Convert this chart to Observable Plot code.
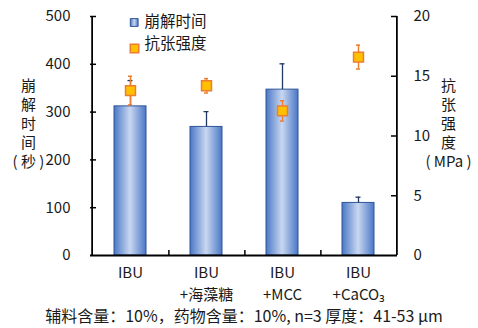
<!DOCTYPE html>
<html>
<head>
<meta charset="utf-8">
<script src="https://cdn.jsdelivr.net/npm/d3@7"></script>
<script src="https://cdn.jsdelivr.net/npm/@observablehq/plot@0.6"></script>
<style>
  body { margin: 0; background: #fff; }
</style>
</head>
<body>
<div id="chart"></div>
<script>
// Formulations and their measured properties (mean and SD, n = 3)
const categories = ["IBU", "IBU+海藻糖", "IBU+MCC", "IBU+CaCO3"];
const labelLine1 = ["IBU", "IBU", "IBU", "IBU"];
const labelLine2 = ["", "+海藻糖", "+MCC", "+CaCO₃"];
const disintegration = [312, 269, 347, 110];      // 崩解时间 (秒)
const disintegrationErr = [54, 32, 54, 12];
const tensile = [13.8, 14.2, 12.1, 16.6];         // 抗张强度 (MPa)
const tensileErr = [1.2, 0.6, 0.85, 1.0];
const leftTicks = [0, 100, 200, 300, 400, 500];
const rightTicks = [0, 5, 10, 15, 20];

// Right axis (0–20 MPa) shares the left axis range (0–500 s)
const k = 500 / 20;

const rows = categories.map((cat, i) => ({
  cat,
  dis: disintegration[i],
  disErr: disintegrationErr[i],
  ts: tensile[i],
  tsErr: tensileErr[i]
}));

const W = 478, H = 328;
const mL = 90, mR = 81, mT = 16, mB = 73;
const fw = W - mL - mR, fh = H - mT - mB;
const step = fw / categories.length;
const font = '"Noto Sans CJK SC", "Noto Sans", sans-serif';
const ink = "#1a1a1a";

const defs = () => {
  const d = d3.create("svg:defs");
  const g = d.append("linearGradient").attr("id", "barGrad")
    .attr("x1", "0").attr("x2", "1").attr("y1", "0").attr("y2", "0");
  g.append("stop").attr("offset", "0%").attr("stop-color", "#4a77c6");
  g.append("stop").attr("offset", "50%").attr("stop-color", "#c9d7f0");
  g.append("stop").attr("offset", "100%").attr("stop-color", "#4a77c6");
  return d.node();
};

const label = { fontSize: 15, fill: ink, lineAnchor: "middle" };

const chart = Plot.plot({
  width: W,
  height: H,
  marginLeft: mL,
  marginRight: mR,
  marginTop: mT,
  marginBottom: mB,
  style: { fontFamily: font, background: "#fff" },
  x: { domain: categories, paddingInner: 0.58, paddingOuter: 0.29, axis: null },
  y: { domain: [0, 500], axis: null },
  marks: [
    defs,
    // 崩解时间 bars with upper error bars
    Plot.barY(rows, { x: "cat", y: "dis", fill: "url(#barGrad)", stroke: "#2f5597", strokeWidth: 1 }),
    Plot.ruleX(rows, { x: "cat", y1: "dis", y2: d => d.dis + d.disErr, stroke: "#1f3864", strokeWidth: 1.3 }),
    Plot.tickY(rows, { x: "cat", y: d => d.dis + d.disErr, stroke: "#1f3864", strokeWidth: 1.3, insetLeft: 13.5, insetRight: 13.5 }),
    // 抗张强度 points with error bars, on the right-hand scale
    Plot.ruleX(rows, { x: "cat", y1: d => (d.ts - d.tsErr) * k, y2: d => (d.ts + d.tsErr) * k, stroke: "#ed7d31", strokeWidth: 1.5 }),
    Plot.tickY(rows, { x: "cat", y: d => (d.ts + d.tsErr) * k, stroke: "#ed7d31", strokeWidth: 1.5, insetLeft: 14, insetRight: 14 }),
    Plot.tickY(rows, { x: "cat", y: d => (d.ts - d.tsErr) * k, stroke: "#ed7d31", strokeWidth: 1.5, insetLeft: 14, insetRight: 14 }),
    Plot.dot(rows, { x: "cat", y: d => d.ts * k, symbol: "square", r: 5.6, fill: "#ffc000", stroke: "#ed7d31", strokeWidth: 1.5 }),
    // axis lines
    Plot.ruleY([0], { stroke: "#000", strokeWidth: 1.8 }),
    Plot.ruleX([categories[0]], { dx: -step / 2, stroke: "#000", strokeWidth: 1.8 }),
    Plot.ruleX([categories[categories.length - 1]], { dx: step / 2, stroke: "#000", strokeWidth: 1.8 }),
    // inward tick marks
    Plot.ruleY(leftTicks.slice(1), { y: d => d, insetRight: fw - 6, stroke: "#000", strokeWidth: 1.5 }),
    Plot.ruleY(rightTicks.slice(1), { y: d => d * k, insetLeft: fw - 6, stroke: "#000", strokeWidth: 1.5 }),
    Plot.ruleX(categories.slice(0, -1), { dx: step / 2, insetTop: fh - 5, stroke: "#000", strokeWidth: 1.5 }),
    // tick labels
    Plot.text(leftTicks, { ...label, y: d => d, text: d => String(d), frameAnchor: "left", dx: -20, textAnchor: "end" }),
    Plot.text(rightTicks, { ...label, y: d => d * k, text: d => String(d), frameAnchor: "right", dx: 16, textAnchor: "start" }),
    Plot.text(categories, { ...label, x: d => d, text: (d, i) => labelLine1[i], frameAnchor: "bottom", dy: 18 }),
    Plot.text(categories, { ...label, x: d => d, text: (d, i) => labelLine2[i], frameAnchor: "bottom", dy: 40 }),
    // axis titles
    Plot.text(["崩\n解\n时\n间\n( 秒 )"], { ...label, frameAnchor: "top-left", textAnchor: "middle", dx: -62, dy: 106, lineHeight: 1.27 }),
    Plot.text(["抗\n张\n强\n度\n( MPa )"], { ...label, frameAnchor: "top-right", textAnchor: "middle", dx: 51, dy: 106, lineHeight: 1.27 }),
    // legend
    Plot.dot([0], { frameAnchor: "top-left", dx: 43.7, dy: 6, symbol: "square", r: 4.4, fill: "url(#barGrad)", stroke: "#2f5597", strokeWidth: 1 }),
    Plot.text(["崩解时间"], { ...label, fontSize: 15.5, frameAnchor: "top-left", dx: 54, dy: 5.5, textAnchor: "start" }),
    Plot.dot([0], { frameAnchor: "top-left", dx: 44, dy: 32, symbol: "square", r: 4.8, fill: "#ffc000", stroke: "#ed7d31", strokeWidth: 1.5 }),
    Plot.text(["抗张强度"], { ...label, fontSize: 15.5, frameAnchor: "top-left", dx: 54, dy: 27.5, textAnchor: "start" }),
    // footnote
    Plot.text(["辅料含量：10%，药物含量：10%, n=3 厚度：41-53 μm"], { ...label, fontSize: 16, frameAnchor: "bottom", dy: 61 })
  ]
});

document.getElementById("chart").appendChild(chart);
</script>
</body>
</html>
